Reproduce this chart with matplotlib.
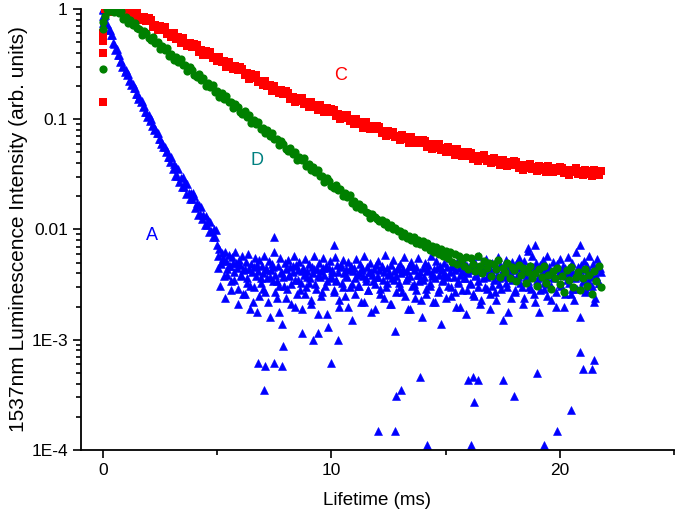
import matplotlib
matplotlib.use("Agg")
import matplotlib.pyplot as plt
import numpy as np
from matplotlib.ticker import FixedLocator, FixedFormatter, LogLocator, NullFormatter, MultipleLocator

plt.rcParams['font.family'] = ['Liberation Sans', 'DejaVu Sans']

# ---- sample C (red squares), 0.1 - 21.8 ms every 0.1 ms, units of 1e-3 ----
c_rise = [0.143, 0.398, 0.512, 0.605]          # points at t = 0
c_vals = [1007, 931, 1020, 930, 1040, 980, 1070, 960, 1010, 940, 1023, 920, 951, 836, 928, 843, 789, 840, 771, 820,
          791, 690, 721, 640, 697, 640, 679, 594, 608, 551, 600, 539, 557, 490, 544, 495, 463, 493, 454, 484,
          467, 409, 428, 381, 416, 383, 408, 357, 367, 334, 363, 328, 340, 299, 333, 304, 284, 304, 279, 297,
          287, 251, 263, 233, 255, 234, 249, 218, 223, 203, 221, 199, 206, 181, 201, 183, 172, 183, 169, 180,
          173, 151, 159, 142, 157, 145, 156, 137, 142, 130, 143, 129, 135, 120, 134, 123, 116, 125, 116, 124,
          121, 106, 112, 100, 110, 102, 109, 96, 99.5, 91, 99.9, 90.6, 94.6, 83.9, 93.9, 86.2, 81.2, 87.5, 80.9, 86.9,
          84.6, 74.5, 78.5, 70.4, 77.4, 71.6, 77.1, 68.4, 71.0, 65.2, 71.9, 65.6, 68.7, 61.3, 68.9, 63.6, 60.2, 65.1, 60.6, 65.3,
          63.8, 56.4, 59.9, 53.8, 59.5, 55.3, 59.6, 52.8, 54.8, 50.4, 55.5, 50.6, 53.1, 47.3, 53.3, 49.1, 46.6, 50.3, 46.7, 50.4,
          49.3, 43.8, 46.5, 42.0, 46.6, 43.4, 47.0, 41.8, 43.5, 40.0, 44.3, 40.5, 42.6, 38.1, 43.0, 39.8, 37.9, 41.1, 38.3, 41.4,
          40.7, 36.1, 38.4, 34.8, 38.7, 36.4, 39.5, 35.2, 36.9, 34.1, 37.9, 34.8, 36.8, 33.1, 37.5, 34.8, 33.3, 36.2, 34.0, 36.9,
          36.4, 32.4, 34.7, 31.4, 34.9, 32.9, 35.8, 32.1, 33.6, 31.3, 34.9, 32.1, 34.0, 30.7, 34.9, 32.5, 31.1, 34.0]

# ---- sample D (green circles), 0.1 - 21.8 ms every 0.1 ms, units of 1e-4 ----
d_rise = [0.285, 0.658, 0.76]                   # points at t = 0
d_vals = [8640, 10070, 9600, 10500, 9300, 9910, 9170, 9530, 8140, 8420, 7460, 7950, 7130, 7490, 6670, 6620, 5860, 6370, 6020, 5400,
          5190, 5510, 4900, 5060, 4310, 4590, 4250, 4420, 3770, 3900, 3460, 3680, 3310, 3480, 3090, 3070, 2720, 2950, 2780, 2500,
          2400, 2550, 2270, 2340, 2000, 2130, 1970, 2040, 1750, 1810, 1600, 1710, 1530, 1610, 1430, 1420, 1260, 1370, 1290, 1160,
          1114, 1187, 1054, 1087, 926, 987, 913, 949, 811, 837, 743, 790, 710, 746, 664, 659, 583, 634, 598, 537,
          516, 549, 488, 504, 429, 457, 423, 440, 376, 389, 344, 366, 329, 346, 308, 305, 271, 294, 277, 249,
          239, 254, 226, 233, 199, 212, 196, 204, 174, 180, 160, 170, 152, 160, 143, 141, 126, 137, 129,
          125, 119, 121, 113, 116, 106, 110, 101, 103, 96,
          97, 88, 93, 84, 87, 80, 85, 76, 81, 74,
          78, 69, 75, 65, 71, 62, 69, 60, 66, 58,
          64, 55, 62, 51, 60, 49, 58, 54, 47, 56,
          44, 55, 49, 42, 57, 47, 40, 52, 45, 50,
          38, 49, 44, 53, 37, 45, 41, 50, 36, 46,
          43, 34, 48, 39, 45, 33, 41, 47, 36, 40,
          31, 44, 37, 47, 33, 39, 29, 42, 36, 45,
          32, 38, 27, 43, 35, 46, 30, 37, 41, 28,
          36, 44, 31, 39, 26, 42, 34, 47, 30]

# ---- sample A (blue triangles) ----
a_rise = [1.0, 0.86, 0.75]                      # points at t = 0
# fast decay 0 - 4.95 ms every 0.05 ms, units of 1e-4
a_decay = [9880, 8630, 8720, 7320, 7340, 6460, 6490, 5830, 5780, 4930, 4850, 4270, 4330, 3840, 3800, 3320, 3360, 2950, 3010, 2680,
           2800, 2490, 2570, 2220, 2270, 2040, 2090, 1910, 1930, 1690, 1700, 1520, 1580, 1430, 1450, 1280, 1320, 1150, 1170, 1050,
           1090, 970, 1000, 864, 884, 794, 813, 745, 754, 658, 660, 592, 612, 556, 563, 501, 517, 451, 457, 407,
           457, 350, 393, 304, 368, 306, 350, 270, 294, 244, 297, 244, 270, 209, 260, 213, 187, 216, 187, 213,
           202, 155, 175, 136, 166, 139, 160, 124, 134, 110, 132, 109, 121, 94, 118, 97, 86, 100, 86, 98]
# noise floor 5.0 - 21.8 ms every 0.05 ms, units of 1e-4
a_floor = [72, 58, 66, 49, 61, 55, 38, 63, 52, 44, 59, 47, 34, 56, 50, 41, 62, 45, 29, 53,
           48, 39, 57, 43, 26, 51, 36, 60, 44, 31, 49, 22, 46, 55, 38, 18, 42, 53, 33, 47,
           40, 58, 27, 45, 36, 52, 16, 43, 49, 34, 62, 39, 24, 47, 31, 55, 41, 14, 37, 50,
           44, 29, 53, 38, 46, 21, 41, 57, 35, 48, 26, 43, 51, 33, 19, 45, 39, 54, 30, 42,
           49, 36, 23, 46, 40, 58, 32, 44, 17, 50, 37, 42, 27, 55, 39, 47, 34, 13, 45, 52,
           38, 43, 28, 56, 35, 48, 41, 20, 46, 33, 53, 40, 25, 44, 37, 51, 30, 47, 15, 42,
           45, 36, 54, 31, 40, 49, 22, 43, 38, 57, 34, 46, 28, 41, 50, 18, 39, 44, 32, 48,
           37, 52, 43, 26, 47, 35, 41, 59, 30, 45, 39, 21, 48, 36, 53, 42, 12, 38, 46, 33,
           49, 40, 27, 44, 56, 35, 42, 19, 47, 38, 51, 31, 43, 24, 46, 39, 55, 34, 41, 16,
           45, 37, 50, 29, 42, 48, 33, 57, 40, 22, 44, 36, 52, 27, 39, 47, 14, 43, 35, 50,
           38, 46, 31, 55, 41, 25, 48, 37, 43, 20, 51, 34, 45, 39, 28, 53, 42, 36, 17, 47,
           40, 33, 49, 44, 26, 52, 38, 45, 30, 58, 41, 23, 47, 36, 43, 54, 29, 39, 46, 19,
           42, 50, 35, 27, 45, 39, 56, 32, 48, 41, 15, 44, 37, 53, 30, 46, 40, 24, 51, 36,
           43, 28, 49, 38, 55, 33, 46, 41, 21, 52, 37, 44, 64, 30, 47, 39, 57, 26, 42, 50,
           35, 45, 18, 48, 40, 53, 29, 43, 37, 58, 32, 46, 23, 41, 51, 36, 44, 27, 49, 39,
           54, 31, 42, 47, 20, 45, 38, 56, 33, 43, 26, 50, 40, 36, 63, 29, 46, 41, 16, 48,
           37, 52, 44, 28, 47, 35, 58, 40, 31, 49, 22, 43, 38, 54, 33, 45, 41]
# second channel of the floor, 5.025 - 21.725 ms every 0.1 ms, units of 1e-4
a_floor2 = [45, 31, 52, 24, 39, 47, 28, 35, 50, 21,
            38, 26, 44, 33, 19, 41, 30, 48, 25, 36,
            29, 43, 22, 37, 46, 27, 34, 18, 40, 31,
            24, 39, 32, 47, 20, 35, 28, 42, 26, 37,
            33, 21, 44, 29, 38, 25, 45, 31, 17, 36,
            41, 27, 34, 23, 48, 30, 38, 20, 43, 32,
            26, 39, 31, 45, 22, 36, 28, 41, 34, 19,
            37, 29, 46, 24, 33, 40, 21, 35, 27, 44,
            30, 42, 25, 36, 19, 47, 32, 28, 39, 23,
            35, 26, 43, 31, 38, 22, 45, 29, 34, 40,
            24, 37, 30, 46, 27, 33, 20, 41, 36, 28,
            43, 32, 25, 39, 34, 21, 47, 30, 37, 26,
            31, 44, 23, 36, 29, 42, 33, 18, 40, 35,
            27, 38, 45, 30, 24, 41, 34, 29, 46, 22,
            36, 28, 40, 33, 25, 43, 31, 37, 20, 39,
            32, 45, 26, 35, 41, 29, 23, 38, 44, 30,
            34, 27, 42, 31, 37, 24, 46, 33]
# isolated outliers (time ms, value in units of 1e-4)
a_out_t = [6.8, 7.06, 7.1, 7.5, 7.85, 7.9, 8.7, 9.2, 9.4, 10.0, 10.3, 12.06, 12.8, 12.85,
           13.07, 13.86, 14.2, 16.0, 16.1, 16.2, 16.25, 16.4, 17.5, 18.0, 19.0, 19.3, 19.9,
           20.5, 20.9, 21.0, 21.4, 21.5, 7.5, 10.1, 18.6, 18.9, 20.9]
a_out_v = [6.1, 3.5, 5.8, 6.1, 5.8, 8.8, 11.5, 10, 11.5, 6.1, 10, 1.5, 1.5, 3.1,
           3.5, 4.6, 1.1, 4.3, 1.1, 4.6, 2.7, 4.3, 4.3, 3.1, 5.0, 1.1, 1.5,
           2.3, 7.8, 5.4, 5.4, 6.6, 85, 73, 68, 73, 73]

# sampling grids
c_t = np.linspace(0.1, 21.8, len(c_vals))
d_t = np.linspace(0.1, 21.8, len(d_vals))
a_t = np.linspace(0.0, 4.95, len(a_decay))
a_floor_t = np.linspace(5.0, 21.8, len(a_floor))
a_floor2_t = np.linspace(5.025, 21.725, len(a_floor2))

fig = plt.figure(figsize=(6.75, 5.16), dpi=100)
ax = fig.add_axes([0.12, 0.128, 0.8785, 0.8547])

red, green, blue = "#ff0000", "#008000", "#0000ff"
sq = dict(ls="none", marker="s", ms=5.4, mew=0, color=red)
ci = dict(ls="none", marker="o", ms=5.9, mew=0, color=green)
tr = dict(ls="none", marker="^", ms=5.6, mew=0.4, color=blue)

# A
ax.plot(np.zeros(len(a_rise)), a_rise, **tr)
ax.plot(a_t, np.array(a_decay) * 1e-4, **tr)
ax.plot(a_floor_t, np.array(a_floor) * 1e-4, **tr)
ax.plot(a_floor2_t, np.array(a_floor2) * 1e-4, **tr)
ax.plot(a_out_t, np.array(a_out_v) * 1e-4, **tr)
# C
ax.plot(np.zeros(len(c_rise)), c_rise, **sq)
ax.plot(c_t, np.array(c_vals) * 1e-3, **sq)
# D
ax.plot(np.zeros(len(d_rise)), d_rise, **ci)
ax.plot(d_t, np.array(d_vals) * 1e-4, **ci)

ax.text(10.4, 0.25, "C", color=red, fontsize=13, ha="center", va="center")
ax.text(6.75, 0.042, "D", color="#008080", fontsize=13, ha="center", va="center")
ax.text(2.15, 0.0088, "A", color=blue, fontsize=13, ha="center", va="center")

ax.set_yscale("log")
ax.set_ylim(1e-4, 1)
ax.set_xlim(-0.96, 25)

ax.yaxis.set_major_locator(FixedLocator([1e-4, 1e-3, 1e-2, 1e-1, 1]))
ax.yaxis.set_major_formatter(FixedFormatter(["1E-4", "1E-3", "0.01", "0.1", "1"]))
ax.yaxis.set_minor_locator(LogLocator(base=10, subs=np.arange(2, 10)))
ax.yaxis.set_minor_formatter(NullFormatter())
ax.xaxis.set_major_locator(FixedLocator([0, 10, 20]))
ax.xaxis.set_minor_locator(MultipleLocator(5))

for s in ("top", "right"):
    ax.spines[s].set_visible(False)
for s in ("left", "bottom"):
    ax.spines[s].set_linewidth(1.3)
ax.tick_params(which="major", direction="out", length=6, width=1.2, labelsize=12.5)
ax.tick_params(which="minor", direction="out", length=3.5, width=1.2)

ax.set_xlabel("Lifetime (ms)", fontsize=13.5, labelpad=10)
ax.set_ylabel("1537nm Luminescence Intensity (arb. units)", fontsize=15, labelpad=2)

fig.savefig("out.png", dpi=100)
plt.close(fig)
